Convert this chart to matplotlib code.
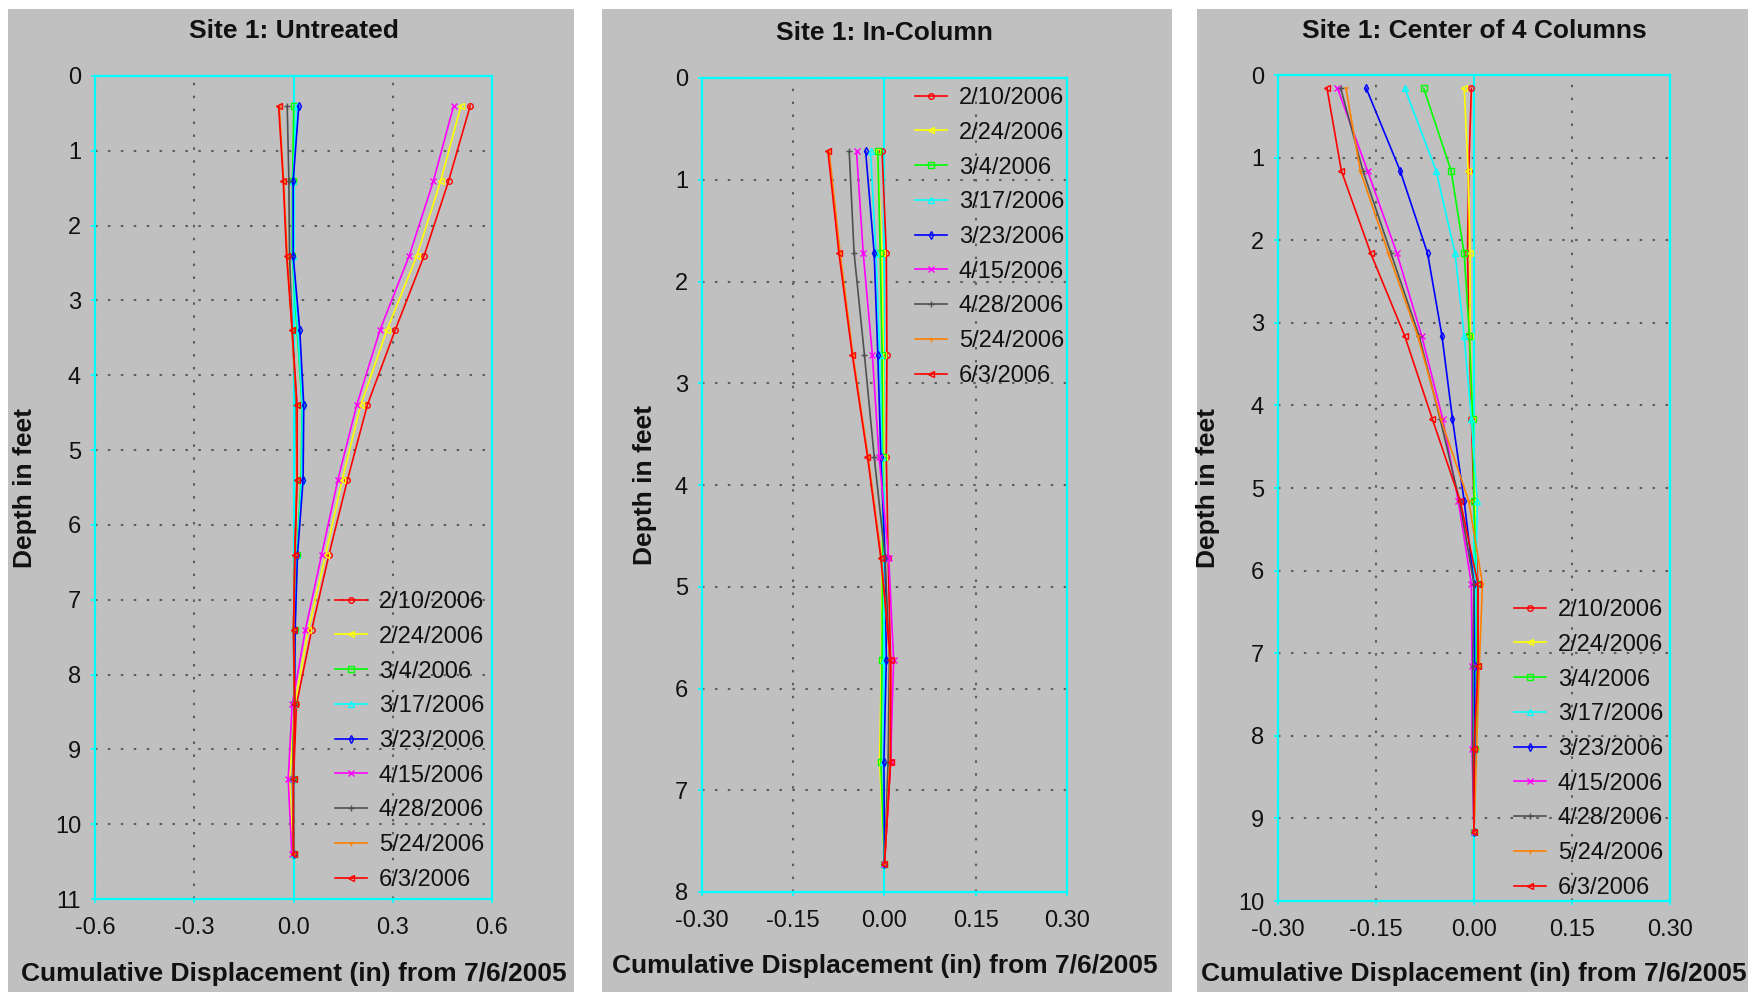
import matplotlib
matplotlib.use("Agg")
import matplotlib.pyplot as plt
from matplotlib.patches import Rectangle
from matplotlib.ticker import FormatStrFormatter, MultipleLocator

plt.rcParams["font.family"] = ["Liberation Sans", "DejaVu Sans"]

# ---------------------------------------------------------------------------
# Data (cumulative displacement in inches)
# ---------------------------------------------------------------------------
DATES = ["2/10/2006", "2/24/2006", "3/4/2006", "3/17/2006", "3/23/2006",
         "4/15/2006", "4/28/2006", "5/24/2006", "6/3/2006"]
COLORS = ["#ff0000", "#ffff00", "#00ff00", "#00ffff", "#0000ff",
          "#ff00ff", "#505050", "#ff8000", "#ff0000"]
MARKERS = ["o", "<", "s", "^", "d", "x", "+", "1", "<"]

# Site 1: Untreated
UNTREATED_DEPTH = [0.4, 1.4, 2.4, 3.4, 4.4, 5.4, 6.4, 7.4, 8.4, 9.4, 10.4]
UNTREATED = [
    [0.534, 0.469, 0.395, 0.307, 0.223, 0.163, 0.107, 0.055, 0.009, 0.000, 0.000],      # 2/10
    [0.506, 0.445, 0.373, 0.282, 0.203, 0.147, 0.097, 0.045, 0.004, -0.012, -0.003],    # 2/24
    [0.001, -0.003, -0.004, 0.011, 0.026, 0.023, 0.010, 0.004, 0.002, -0.002, 0.000],   # 3/4
    [0.011, -0.002, -0.003, 0.013, 0.027, 0.025, 0.011, 0.004, 0.002, -0.002, 0.000],   # 3/17
    [0.016, -0.001, -0.001, 0.019, 0.031, 0.029, 0.012, 0.005, 0.003, -0.001, 0.000],   # 3/23
    [0.484, 0.423, 0.350, 0.261, 0.191, 0.134, 0.085, 0.036, -0.004, -0.016, -0.005],   # 4/15
    [-0.019, -0.014, -0.012, -0.004, 0.008, 0.010, 0.004, 0.000, 0.002, -0.003, 0.000], # 4/28
    [-0.043, -0.030, -0.019, -0.005, 0.010, 0.010, 0.004, 0.000, 0.003, -0.001, 0.000], # 5/24
    [-0.045, -0.031, -0.021, -0.004, 0.011, 0.011, 0.004, 0.000, 0.004, 0.000, 0.000],  # 6/3
]

# Site 1: In-Column
INCOLUMN_DEPTH = [0.72, 1.72, 2.72, 3.72, 4.72, 5.72, 6.72, 7.72]
INCOLUMN = [
    [-0.004, 0.003, 0.004, 0.003, 0.006, 0.010, 0.010, 0.000],       # 2/10
    [-0.012, -0.004, -0.002, -0.001, -0.004, -0.005, -0.008, 0.000], # 2/24
    [-0.011, -0.007, -0.004, -0.003, -0.003, -0.004, -0.006, 0.000], # 3/4
    [-0.023, -0.014, -0.008, -0.004, -0.001, -0.001, -0.002, 0.000], # 3/17
    [-0.031, -0.017, -0.011, -0.006, 0.001, 0.003, -0.001, 0.000],   # 3/23
    [-0.046, -0.035, -0.020, -0.009, 0.007, 0.015, 0.010, 0.000],    # 4/15
    [-0.058, -0.050, -0.033, -0.017, 0.001, 0.008, 0.006, 0.000],    # 4/28
    [-0.091, -0.073, -0.052, -0.027, -0.005, 0.009, 0.009, 0.000],   # 5/24
    [-0.093, -0.075, -0.053, -0.028, -0.006, 0.010, 0.010, 0.000],   # 6/3
]

# Site 1: Center of 4 Columns
CENTER_DEPTH = [0.16, 1.16, 2.16, 3.16, 4.16, 5.16, 6.16, 7.16, 8.16, 9.16]
CENTER = [
    [-0.004, -0.008, -0.010, -0.007, -0.004, 0.000, 0.006, 0.006, 0.002, 0.000],   # 2/10
    [-0.015, -0.009, -0.006, -0.006, -0.003, 0.002, 0.004, 0.004, 0.002, 0.000],   # 2/24
    [-0.077, -0.035, -0.015, -0.007, -0.002, 0.000, 0.004, 0.004, 0.002, 0.000],   # 3/4
    [-0.106, -0.058, -0.029, -0.015, -0.004, 0.005, 0.003, 0.002, 0.001, 0.000],   # 3/17
    [-0.165, -0.113, -0.071, -0.049, -0.033, -0.015, 0.000, 0.001, 0.001, 0.000],  # 3/23
    [-0.209, -0.163, -0.118, -0.080, -0.048, -0.024, -0.004, -0.003, -0.003, 0.000], # 4/15
    [-0.204, -0.170, -0.127, -0.084, -0.052, -0.022, 0.000, -0.002, -0.002, 0.000],  # 4/28
    [-0.196, -0.174, -0.131, -0.086, -0.051, -0.008, 0.013, 0.008, 0.004, 0.000],    # 5/24
    [-0.225, -0.203, -0.158, -0.106, -0.064, -0.021, 0.006, 0.006, 0.000, 0.000],    # 6/3
]

# ---------------------------------------------------------------------------
# Layout (pixel boxes of the original screenshot)
# ---------------------------------------------------------------------------
W, H = 1749, 992
GRAY = "#c0c0c0"
CYAN = "#00ffff"


def fx(px):
    return px / W


def fy(py):
    return 1 - py / H


def draw_panel(fig, bg, box, title, title_y, xlabel_y, ylabel_x,
               depth, values, xlim, xstep, xfmt, ymax, leg_xy):
    x0, x1 = bg
    fig.add_artist(Rectangle((fx(x0), 0), fx(x1 - x0), fy(9),
                             transform=fig.transFigure, facecolor=GRAY,
                             edgecolor="none", zorder=-10))
    l, t, r, b = box
    ax = fig.add_axes([fx(l), fy(b), fx(r - l), (b - t) / H])
    ax.set_facecolor(GRAY)

    for vals, date, c, m in zip(values, DATES, COLORS, MARKERS):
        ax.plot(vals, depth, color=c, lw=1.2, marker=m, ms=4,
                mfc="none", mec=c, mew=1.0, label=date, zorder=3)

    ax.set_xlim(*xlim)
    ax.set_ylim(ymax, 0)
    ax.xaxis.set_major_locator(MultipleLocator(xstep))
    ax.xaxis.set_major_formatter(FormatStrFormatter(xfmt))
    ax.yaxis.set_major_locator(MultipleLocator(1))
    ax.axvline(0, color=CYAN, lw=1.5, zorder=2)
    ax.grid(True, color="#5e5e5e", linestyle=(0, (1.2, 5)), lw=1.5, zorder=1)
    for s in ax.spines.values():
        s.set_color(CYAN)
        s.set_linewidth(1.6)
    ax.tick_params(colors=CYAN, length=3, width=1.2, labelcolor="#111111",
                   labelsize=17)
    ax.tick_params(axis="x", pad=10)
    ax.tick_params(axis="y", pad=7)

    cx = (l + r) / 2
    fig.text(fx(cx), fy(title_y), title, ha="center", va="center",
             fontsize=19, fontweight="bold", color="#111111")
    fig.text(fx(cx), fy(xlabel_y), "Cumulative Displacement (in) from 7/6/2005",
             ha="center", va="center", fontsize=19, fontweight="bold",
             color="#111111")
    fig.text(fx(ylabel_x), fy((t + b) / 2), "Depth in feet", rotation=90,
             ha="center", va="center", fontsize=19, fontweight="bold",
             color="#111111")

    ax.legend(loc="upper left", bbox_to_anchor=(fx(leg_xy[0]), fy(leg_xy[1])),
              bbox_transform=fig.transFigure, frameon=False, fontsize=17,
              handlelength=1.35, handletextpad=0.5, labelspacing=0.54,
              borderpad=0, borderaxespad=0, labelcolor="#111111")
    return ax


fig = plt.figure(figsize=(W / 100, H / 100), dpi=100, facecolor="white")

draw_panel(fig, (8, 574), (95, 76, 492, 899), "Site 1: Untreated", 31, 974, 25,
           UNTREATED_DEPTH, UNTREATED, (-0.6, 0.6), 0.3, "%.1f", 11,
           (335, 591))
draw_panel(fig, (602, 1172), (702, 78, 1067, 892), "Site 1: In-Column", 33, 966, 645,
           INCOLUMN_DEPTH, INCOLUMN, (-0.30, 0.30), 0.15, "%.2f", 8,
           (915, 87))
draw_panel(fig, (1197, 1749), (1278, 75, 1670, 901), "Site 1: Center of 4 Columns",
           31, 974, 1208,
           CENTER_DEPTH, CENTER, (-0.30, 0.30), 0.15, "%.2f", 10,
           (1514, 599))

fig.savefig("out.png", dpi=100, facecolor="white")
